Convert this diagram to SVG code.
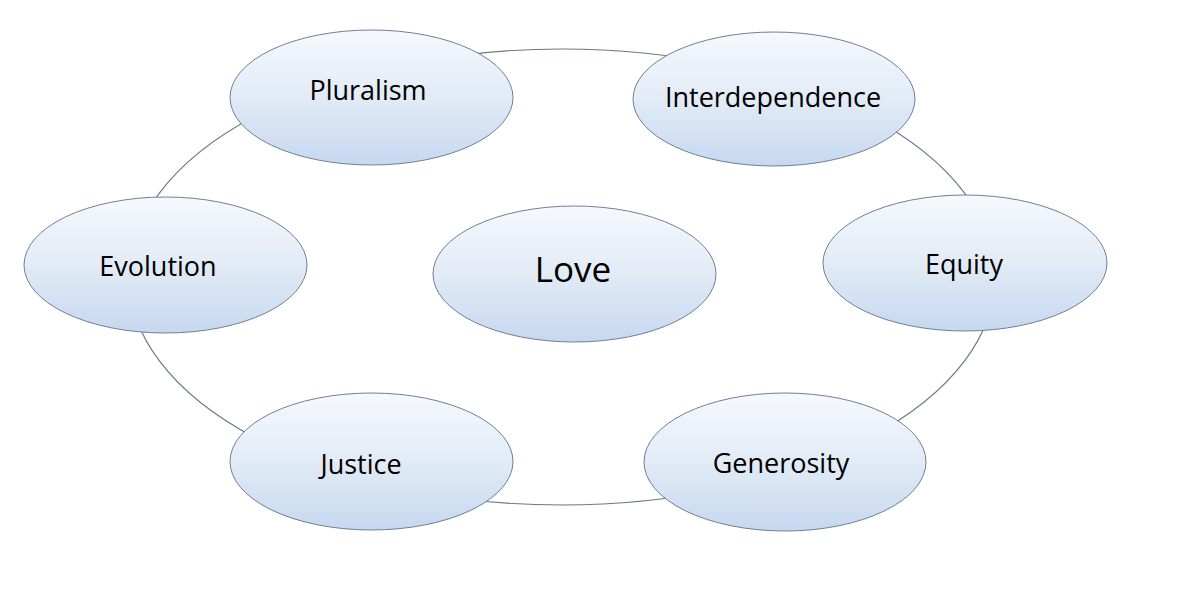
<svg xmlns="http://www.w3.org/2000/svg" width="1192" height="608" viewBox="0 0 1192 608">
  <defs>
    <linearGradient id="fillGrad" x1="0" y1="0" x2="0" y2="1">
      <stop offset="0" stop-color="#f6f9fd"/>
      <stop offset="0.5" stop-color="#e2ebf6"/>
      <stop offset="1" stop-color="#c6d8ef"/>
    </linearGradient>
  </defs>
  <style>
    .node ellipse { fill: url(#fillGrad); stroke: #6f7f99; stroke-width: 1; }
    .node text { font-family: "Open Sans", "Liberation Sans", sans-serif; font-size: 27px; fill: #000; text-anchor: middle; }
    #love text { font-size: 35px; }
    .ring { fill: none; stroke: #6f7885; stroke-width: 1.2; }
  </style>
  <rect width="1192" height="608" fill="#ffffff"/>
  <g id="connectors">
    <ellipse class="ring" cx="562" cy="277" rx="433" ry="228"/>
  </g>
  <g id="pluralism" class="node">
    <ellipse cx="371.5" cy="97.5" rx="141.5" ry="67.5"/>
    <text x="368" y="100">Pluralism</text>
  </g>
  <g id="interdependence" class="node">
    <ellipse cx="774" cy="99" rx="141" ry="67"/>
    <text x="773" y="107">Interdependence</text>
  </g>
  <g id="evolution" class="node">
    <ellipse cx="165.5" cy="265" rx="141.5" ry="68"/>
    <text x="158" y="276">Evolution</text>
  </g>
  <g id="love" class="node">
    <ellipse cx="574.5" cy="274" rx="141.5" ry="68"/>
    <text x="573" y="282">Love</text>
  </g>
  <g id="equity" class="node">
    <ellipse cx="965" cy="263" rx="142" ry="68"/>
    <text x="964" y="274">Equity</text>
  </g>
  <g id="justice" class="node">
    <ellipse cx="371.5" cy="461.5" rx="141.5" ry="68.5"/>
    <text x="361" y="474">Justice</text>
  </g>
  <g id="generosity" class="node">
    <ellipse cx="785" cy="462" rx="141" ry="69"/>
    <text x="781" y="473">Generosity</text>
  </g>
</svg>
